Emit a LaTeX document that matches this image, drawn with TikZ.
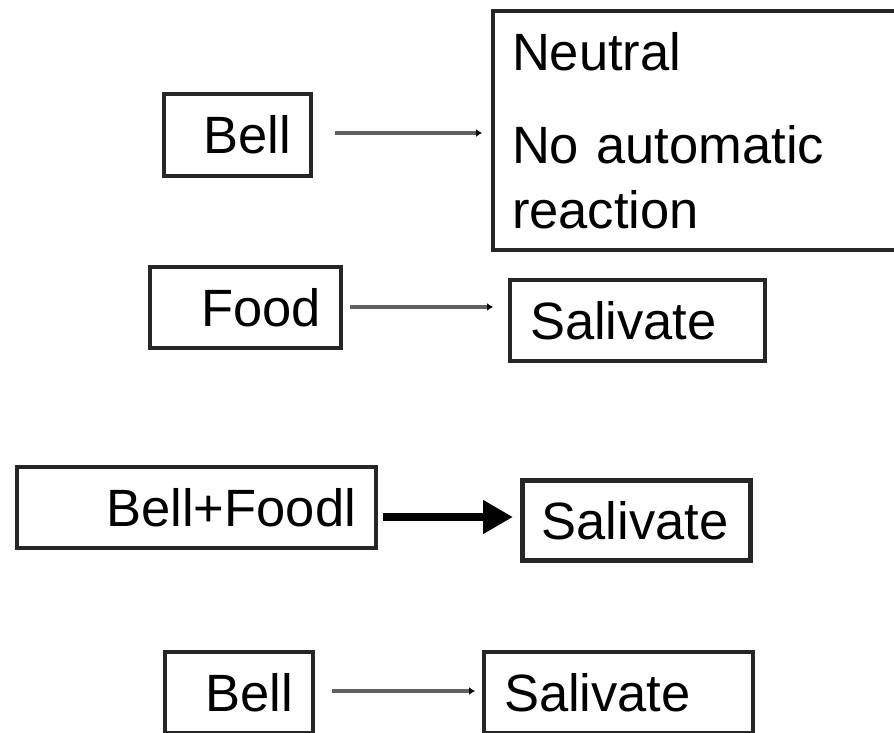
\documentclass[tikz,border=0pt]{standalone}
\usepackage{fontspec}
\setmainfont{Liberation Sans}
\usetikzlibrary{arrows.meta}

\begin{document}
\begin{tikzpicture}[x=1bp, y=-1bp,
  box/.style={draw=black!85, line width=4bp, inner xsep=20bp, inner ysep=0pt,
    font=\fontsize{52.5bp}{65bp}\selectfont},
  leftbox/.style={box, align=right},
  rightbox/.style={box, align=left},
  thinarrow/.style={draw=black!62, line width=4bp,
    -{Latex[length=6bp, width=8bp, color=black]}},
  thickarrow/.style={draw=black, line width=8bp,
    -{Triangle[length=30bp, width=32bp]}}]

\useasboundingbox (0,0) rectangle (894,733);

% Row 1: bell alone, no response
\node[leftbox, minimum width=147bp, minimum height=82bp, text width=107bp]
  (bellA) at (237.5,135) {Bell};
\node[rightbox, minimum width=417bp, minimum height=239bp, text width=379bp,
  inner xsep=19bp]
  (neutral) at (701.5,130.5) {Neutral\\[28bp]No automatic\\reaction};

% Row 2: food gives salivation
\node[leftbox, minimum width=191bp, minimum height=81bp, text width=151bp]
  (food) at (245.5,307.5) {Food};
\node[rightbox, minimum width=255bp, minimum height=81bp, text width=215bp]
  (salA) at (637.5,320.5) {Salivate};

% Row 3: pairing of bell and food
\node[leftbox, minimum width=359bp, minimum height=81bp, text width=319bp]
  (bellfood) at (196.5,507.5) {Bell+Foodl};
\node[rightbox, line width=5bp, inner xsep=19bp, minimum width=228bp,
  minimum height=80bp, text width=190bp]
  (salB) at (636.5,520.5) {Salivate};

% Row 4: bell alone now gives salivation
\node[leftbox, minimum width=148bp, minimum height=81bp, text width=108bp]
  (bellB) at (239,692.5) {Bell};
\node[rightbox, minimum width=269bp, minimum height=81bp, text width=229bp]
  (salC) at (618.5,692.5) {Salivate};

% Connectors
\draw[thinarrow, shorten <=22bp, shorten >=9bp]
  (bellA.east |- 0,133) -- (neutral.west |- 0,133);
\draw[thinarrow, shorten <=7bp, shorten >=15bp]
  (food.east |- 0,307) -- (salA.west |- 0,307);
\draw[thickarrow, shorten <=5bp, shorten >=7bp]
  (bellfood.east |- 0,517) -- (salB.west |- 0,517);
\draw[thinarrow, shorten <=17bp, shorten >=7bp]
  (bellB.east |- 0,691) -- (salC.west |- 0,691);
\end{tikzpicture}
\end{document}
